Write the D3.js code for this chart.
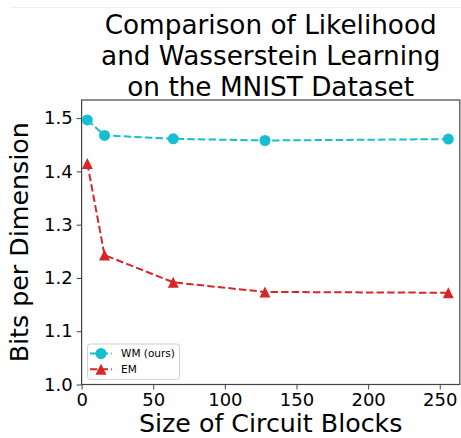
<!DOCTYPE html>
<html><head><meta charset="utf-8">
<script src="https://cdn.jsdelivr.net/npm/d3@7"></script>
<style>html,body{margin:0;padding:0;background:#fff;} svg{display:block;font-family:"DejaVu Sans",sans-serif;}</style>
</head><body>
<svg id="c" width="461" height="438"></svg>
<script>
const blockSizes = [4, 16, 64, 128, 256];
const wmValues = [1.4965, 1.4675, 1.4612, 1.4580, 1.4606];
const emValues = [1.4150, 1.2430, 1.1918, 1.1737, 1.1722];
const seriesNames = ["WM (ours)", "EM"];
const xTicks = [0, 50, 100, 150, 200, 250];
const yTicks = [1.0, 1.1, 1.2, 1.3, 1.4, 1.5];
const titleLines = ["Comparison of Likelihood", "and Wasserstein Learning", "on the MNIST Dataset"];

const svg = d3.select("#c");
const L = 81.6, R = 459.8, T = 100, B = 384.5;
const x = d3.scaleLinear().domain([0, 264]).range([L, R]);
const y = d3.scaleLinear().domain([1.0, 1.534]).range([B, T]);

// faint top border line
svg.append("line").attr("x1", 10).attr("x2", 461).attr("y1", 7.5).attr("y2", 7.5)
  .attr("stroke", "#eeeeee").attr("stroke-width", 1);

// title
svg.append("g").selectAll("text").data(titleLines).join("text")
  .attr("x", (L + R) / 2).attr("y", (d, i) => 33.5 + i * 31)
  .attr("text-anchor", "middle").attr("font-size", 26.3).attr("fill", "#000").text(d => d);

// spines
svg.append("rect").attr("x", L).attr("y", T).attr("width", R - L).attr("height", B - T)
  .attr("fill", "none").attr("stroke", "#444").attr("stroke-width", 1.2);

// axes
const xAxis = d3.axisBottom(x).tickValues(xTicks).tickFormat(d3.format("d")).tickSize(5).tickPadding(4);
const gx = svg.append("g").attr("transform", `translate(0,${B})`).call(xAxis);
gx.select(".domain").remove();
gx.selectAll("text").attr("font-size", 18).attr("fill", "#000").attr("font-family", "DejaVu Sans");
gx.selectAll("line").attr("stroke", "#444");

const yAxis = d3.axisLeft(y).tickValues(yTicks).tickFormat(d3.format(".1f")).tickSize(5).tickPadding(4);
const gy = svg.append("g").attr("transform", `translate(${L},0)`).call(yAxis);
gy.select(".domain").remove();
gy.selectAll("text").attr("font-size", 18).attr("fill", "#000").attr("font-family", "DejaVu Sans");
gy.selectAll("line").attr("stroke", "#444");

// axis labels
svg.append("text").attr("x", (L + R) / 2).attr("y", 432).attr("text-anchor", "middle")
  .attr("font-size", 25.3).attr("fill", "#000").text("Size of Circuit Blocks");
svg.append("text").attr("transform", `translate(28,${(T + B) / 2}) rotate(-90)`).attr("text-anchor", "middle")
  .attr("font-size", 25.3).attr("fill", "#000").text("Bits per Dimension");

const colors = ["#17becf", "#d62728"];
const series = [wmValues, emValues];
const line = d3.line().x(d => x(d[0])).y(d => y(d[1]));

function triPath(cx, cy, s) {
  const h = s / 2;
  return `M${cx},${cy - h}L${cx + h},${cy + h}L${cx - h},${cy + h}Z`;
}

series.forEach((vals, si) => {
  const pts = blockSizes.map((b, i) => [b, vals[i]]);
  svg.append("path").attr("d", line(pts)).attr("fill", "none").attr("stroke", colors[si])
    .attr("stroke-width", 2).attr("stroke-dasharray", "7.4,3.2");
  const g = svg.append("g");
  if (si === 0) {
    g.selectAll("circle").data(pts).join("circle")
      .attr("cx", d => x(d[0])).attr("cy", d => y(d[1])).attr("r", 5.5).attr("fill", colors[si]);
  } else {
    g.selectAll("path").data(pts).join("path")
      .attr("d", d => triPath(x(d[0]), y(d[1]), 11)).attr("fill", colors[si]);
  }
});

// legend
const lg = svg.append("g");
lg.append("rect").attr("x", 87.5).attr("y", 344).attr("width", 92).attr("height", 35.5).attr("rx", 3)
  .attr("fill", "#fff").attr("fill-opacity", 0.8).attr("stroke", "#d0d0d0").attr("stroke-width", 1);
seriesNames.forEach((name, i) => {
  const cy = 353.5 + i * 15.7;
  lg.append("line").attr("x1", 90).attr("x2", 112).attr("y1", cy).attr("y2", cy)
    .attr("stroke", colors[i]).attr("stroke-width", 2).attr("stroke-dasharray", "7.4,3.2");
  if (i === 0) lg.append("circle").attr("cx", 101).attr("cy", cy).attr("r", 5.5).attr("fill", colors[i]);
  else lg.append("path").attr("d", triPath(101, cy, 11)).attr("fill", colors[i]);
  lg.append("text").attr("x", 121).attr("y", cy + 3.8).attr("font-size", 10.5).attr("fill", "#000").text(name);
});
</script>
</body></html>
